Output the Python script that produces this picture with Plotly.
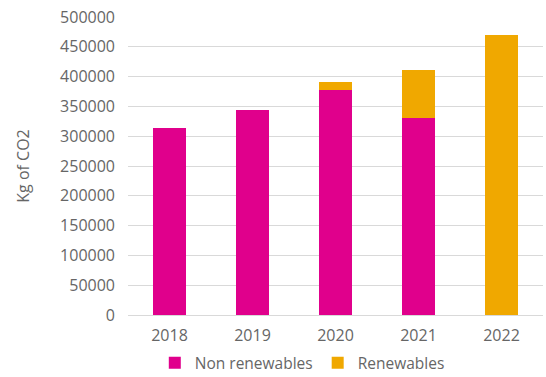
import plotly.graph_objects as go

years = ["2018", "2019", "2020", "2021", "2022"]
non_renewables = [314000, 344000, 377000, 330000, 0]
renewables = [0, 0, 14000, 80500, 469000]

font_family = "Open Sans, sans-serif"
gray = "#666666"

fig = go.Figure()
fig.add_trace(go.Bar(x=years, y=non_renewables, name="Non renewables",
                     marker=dict(color="#E0008C", line=dict(width=0))))
fig.add_trace(go.Bar(x=years, y=renewables, name="Renewables",
                     marker=dict(color="#F0A800", line=dict(width=0))))

fig.update_layout(
    barmode="stack",
    bargap=0.6,
    width=546, height=377,
    margin=dict(l=128, r=3, t=17, b=62, autoexpand=False),
    paper_bgcolor="white", plot_bgcolor="white",
    font=dict(family=font_family, size=16, color=gray),
    showlegend=True,
    legend=dict(orientation="h", x=0.42, xanchor="center", y=-0.105, yanchor="top",
                font=dict(size=15.5, color=gray), itemwidth=30, tracegroupgap=0,
                traceorder="normal"),
    xaxis=dict(showgrid=False, showline=True, linecolor="#d9d9d9", linewidth=1,
               ticks="", tickfont=dict(size=16, color=gray), ticklabelstandoff=6),
    yaxis=dict(range=[0, 500000], dtick=50000, showgrid=True, gridcolor="#d9d9d9",
               gridwidth=1, zeroline=False, ticks="", tickformat="d",
               tickfont=dict(size=16, color=gray), ticklabelstandoff=12,
               title=dict(text="Kg of CO2", font=dict(size=16, color=gray), standoff=26)),
)

fig.write_html("out.html")
